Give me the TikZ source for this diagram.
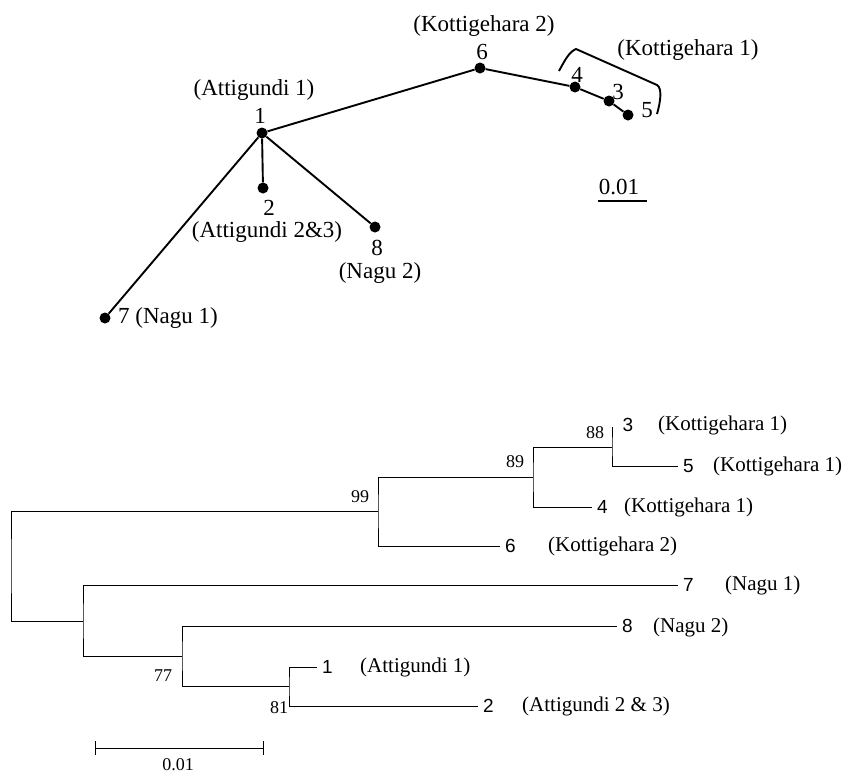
\documentclass[tikz,border=0pt]{standalone}
\usepackage{fontspec}
\setmainfont{Liberation Serif}
\newfontfamily\arialfont{Liberation Sans}
\usetikzlibrary{arrows.meta,positioning}
\tikzstyle{seqdot} = [circle, fill=black, inner sep=0pt, minimum size=11pt]
\tikzstyle{netlbl} = [font={\fontsize{23}{27}\selectfont}, inner sep=0pt]
\tikzstyle{netline} = [line width=1.9pt]
\tikzstyle{branch} = [line width=0.9pt]
\tikzstyle{leafno} = [font={\arialfont\fontsize{19}{22}\selectfont}, inner sep=5pt, anchor=west]
\tikzstyle{taxon} = [font={\fontsize{21}{25}\selectfont}, inner sep=0pt, anchor=west]
\tikzstyle{bootval} = [font={\fontsize{18}{21}\selectfont}, inner sep=0pt]
\begin{document}
\begin{tikzpicture}[x=1pt, y=-1pt]
    \useasboundingbox (0,0) rectangle (851,774);
    % haplotype network
    \node [seqdot] (n1) at (262,133) {};
    \node [seqdot] (n6) at (480,68) {};
    \node [seqdot] (n4) at (575,87) {};
    \node [seqdot] (n3) at (609,101) {};
    \node [seqdot] (n5) at (628,115) {};
    \node [seqdot] (n2) at (263,188) {};
    \node [seqdot] (n8) at (375,227) {};
    \node [seqdot] (n7) at (105,318) {};
    \draw [netline] (n1) -- (n6) -- (n4) -- (n3) -- (n5);
    \draw [netline] (n1) -- (n2);
    \draw [netline] (n1) -- (n8);
    \draw [netline] (n1) -- (n7);
    \node [netlbl] (t1) at (260,116) {1};
    \node [netlbl] (a1) at (254,90) {(Attigundi 1)};
    \node [netlbl] (t6) at (482,52) {6};
    \node [netlbl] (k2) at (484,26) {(Kottigehara 2)};
    \node [netlbl] (t4) at (577,75) {4};
    \node [netlbl] (t3) at (618,92) {3};
    \node [netlbl] (t5) at (647,110) {5};
    \node [netlbl] (k1) at (688,50) {(Kottigehara 1)};
    \node [netlbl] (t2) at (269,208) {2};
    \node [netlbl] (a23) at (267,232) {(Attigundi 2\&3)};
    \node [netlbl] (t8) at (377,248) {8};
    \node [netlbl] (ng2) at (380,273) {(Nagu 2)};
    \node [netlbl, anchor=west] (ng1) at (118,318) {7 (Nagu 1)};
    \draw [netline] (559,71) .. controls (565,60) and (569,52) .. (576,49) -- (657,85) .. controls (662,88) and (661,100) .. (657,114);
    \coordinate (sa) at (598,201);
    \coordinate (sb) at (647,201);
    \draw [netline] (sa) -- (sb);
    \node [netlbl] (sc) at (619,187) {0.01};
    % neighbour-joining tree
    \coordinate (r) at (11,566);
    \coordinate (b99) at (378,511);
    \coordinate (b89) at (533,477);
    \coordinate (b88) at (612,447);
    \coordinate (tp3) at (612,427);
    \coordinate (bl) at (83,621);
    \coordinate (b77) at (182,656);
    \coordinate (b81) at (289,686);
    \node [leafno, anchor=center] (l3) at (628,425) {3};
    \node [leafno] (l5) at (678,466) {5};
    \node [leafno] (l4) at (592,507) {4};
    \node [leafno] (l6) at (500,546) {6};
    \node [leafno] (l7) at (678,585) {7};
    \node [leafno] (l8) at (617,626) {8};
    \node [leafno] (l1) at (317,667) {1};
    \node [leafno] (l2) at (478,706) {2};
    \draw [branch] (b99) -| (r) |- (bl);
    \draw [branch] (b89) -| (b99) |- (l6);
    \draw [branch] (b88) -| (b89) |- (l4);
    \draw [branch] (tp3) -- (b88) |- (l5);
    \draw [branch] (l7) -| (bl) |- (b77);
    \draw [branch] (l8) -| (b77) |- (b81);
    \draw [branch] (l1) -| (b81) |- (l2);
    \node [taxon] (x3) at (658,425) {(Kottigehara 1)};
    \node [taxon] (x5) at (713,466) {(Kottigehara 1)};
    \node [taxon] (x4) at (624,507) {(Kottigehara 1)};
    \node [taxon] (x6) at (548,546) {(Kottigehara 2)};
    \node [taxon] (x7) at (725,585) {(Nagu 1)};
    \node [taxon] (x8) at (653,627) {(Nagu 2)};
    \node [taxon] (x1) at (360,667) {(Attigundi 1)};
    \node [taxon] (x2) at (522,706) {(Attigundi 2 \& 3)};
    \node [bootval] (v99) at (360,497) {99};
    \node [bootval] (v89) at (515,462) {89};
    \node [bootval] (v88) at (595,433) {88};
    \node [bootval] (v77) at (163,676) {77};
    \node [bootval] (v81) at (279,708) {81};
    \coordinate (sc1) at (95,748);
    \coordinate (sc2) at (264,748);
    \draw [branch, {Bar[width=14pt]}-{Bar[width=14pt]}] (sc1) -- (sc2);
    \node [bootval] (sv) at (178,765) {0.01};
\end{tikzpicture}
\end{document}
